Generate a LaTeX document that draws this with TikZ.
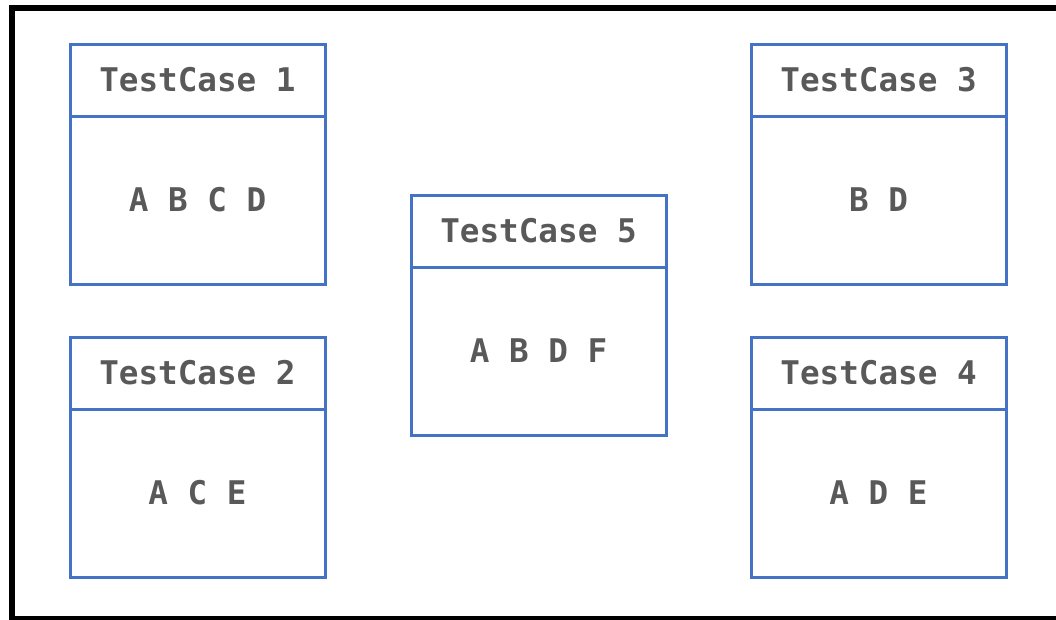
\documentclass[tikz,border=0pt]{standalone}
\usepackage{fontspec}
\setmonofont{DejaVu Sans Mono}
\usetikzlibrary{calc}
\definecolor{boxblue}{HTML}{4472C4}
\definecolor{txtgray}{HTML}{595959}
\tikzset{
  tcbox/.style={draw=boxblue, line width=3pt, minimum width=255pt, minimum height=240pt, inner sep=0pt, outer sep=0pt},
  tctext/.style={text=txtgray, font=\fontsize{32.6pt}{36pt}\ttfamily\bfseries, inner sep=0pt},
}
\begin{document}
\begin{tikzpicture}[x=1pt,y=-1pt]
\useasboundingbox (0,0) rectangle (1056,619);
\begin{scope}
\clip (0,0) rectangle (1056,619);
\draw[line width=6pt] (12,8) rectangle (1064,619);
\end{scope}
% boxes: (left, top) anchors
\foreach \n/\x/\y/\body in {1/70/44/{A B C D}, 2/70/337/{A C E}, 3/751/44/{B D}, 4/751/337/{A D E}, 5/411/195/{A B D F}} {
  \node[tcbox, anchor=north west] (tc\n) at (\x,\y) {};
  \draw[boxblue, line width=3pt] ([yshift=-72pt]tc\n.north west) coordinate (d\n) -- ([yshift=-72pt]tc\n.north east);
  \node[tctext] (h\n) at ($(tc\n.north)!0.5!([yshift=-72pt]tc\n.north)$) {TestCase \n};
  \node[tctext] (b\n) at ($([yshift=-72pt]tc\n.north)!0.5!(tc\n.south)$) {\body};
}
\end{tikzpicture}
\end{document}
